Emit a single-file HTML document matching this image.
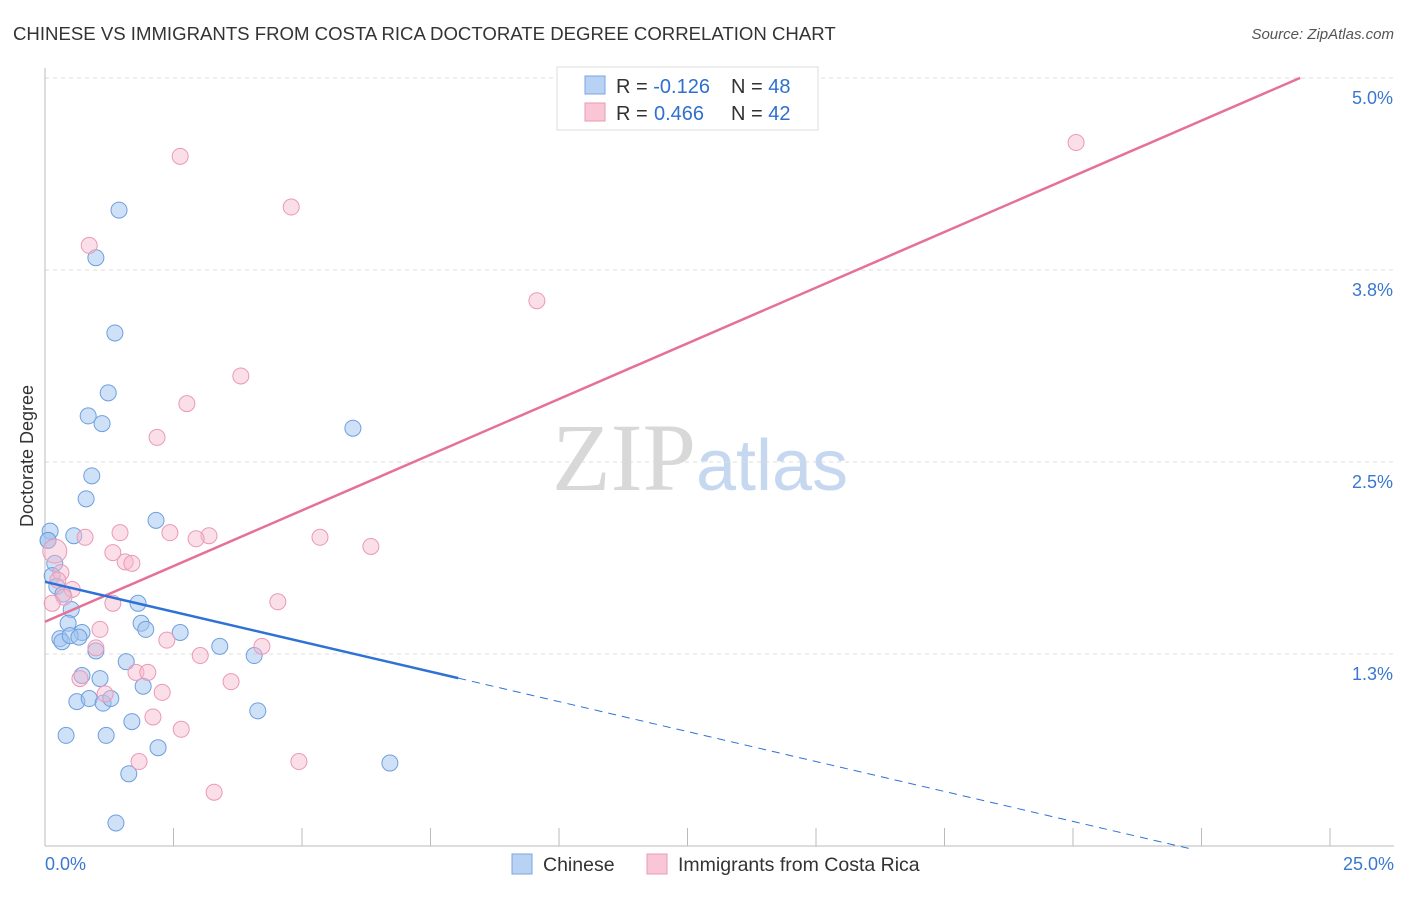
<!DOCTYPE html>
<html><head><meta charset="utf-8">
<style>
body{margin:0;background:#fff;font-family:"Liberation Sans",sans-serif;}
svg text{font-family:"Liberation Sans",sans-serif;}
</style></head>
<body>
<svg id="chart" width="1406" height="892" xmlns="http://www.w3.org/2000/svg">
<text x="13" y="40" font-size="18.6" fill="#333">CHINESE VS IMMIGRANTS FROM COSTA RICA DOCTORATE DEGREE CORRELATION CHART</text>
<text x="1394" y="39" font-size="15" fill="#555" text-anchor="end" font-style="italic">Source: ZipAtlas.com</text>
<text x="700" y="490" font-size="96" text-anchor="middle"><tspan fill="#d8d8d8" font-family="Liberation Serif">ZIP</tspan><tspan fill="#c5d8f0" font-size="72">atlas</tspan></text>
<g id="grid"></g>
<g id="axes"></g>
<g id="marks"></g>
<text transform="translate(33,456) rotate(-90)" font-size="18" fill="#333" text-anchor="middle">Doctorate Degree</text>
<g>
<rect x="557" y="67" width="261" height="63" fill="#fff" stroke="#ddd"/>
<rect x="585" y="76" width="20" height="18" fill="#b8d2f4" stroke="#7aa6e0"/>
<rect x="585" y="103" width="20" height="18" fill="#f9c6d6" stroke="#eb98b6"/>
<text x="616" y="93" font-size="20" fill="#333">R = <tspan fill="#2f6fd0">-0.126</tspan></text>
<text x="731" y="93" font-size="20" fill="#333">N = <tspan fill="#2f6fd0">48</tspan></text>
<text x="616" y="120" font-size="20" fill="#333">R = </text>
<text x="654" y="120" font-size="20" fill="#2f6fd0">0.466</text>
<text x="731" y="120" font-size="20" fill="#333">N = <tspan fill="#2f6fd0">42</tspan></text>
</g>
<g>
<rect x="512" y="854" width="20" height="20" fill="#b8d2f4" stroke="#7aa6e0"/>
<text x="543" y="871" font-size="19.5" fill="#333">Chinese</text>
<rect x="647" y="854" width="20" height="20" fill="#f9c6d6" stroke="#eb98b6"/>
<text x="678" y="871" font-size="19.5" fill="#333">Immigrants from Costa Rica</text>
</g>
</svg>
<script>
const xTicks=[0,2.5,5,7.5,10,12.5,15,17.5,20,22.5,25];
const yTicks=[1.25,2.5,3.75,5.0];
const yTickLabels=["1.3%","2.5%","3.8%","5.0%"];
const xTickLabels=["0.0%","25.0%"];
const chineseX=[1.44,0.99,1.36,1.23,0.84,1.11,0.91,0.80,0.10,0.06,0.56,2.16,0.19,0.14,0.23,0.35,0.51,1.81,0.45,1.87,1.96,2.63,0.72,0.29,0.33,0.49,0.66,0.99,3.40,4.07,1.58,0.72,1.07,1.91,0.62,0.86,1.13,1.28,4.14,1.69,0.41,1.19,2.20,6.71,1.63,1.38,5.99,0.06];
const chineseY=[4.14,3.83,3.34,2.95,2.80,2.75,2.41,2.26,2.05,1.99,2.02,2.12,1.84,1.76,1.69,1.64,1.54,1.58,1.45,1.45,1.41,1.39,1.39,1.35,1.33,1.37,1.36,1.27,1.30,1.24,1.20,1.11,1.09,1.04,0.94,0.96,0.93,0.96,0.88,0.81,0.72,0.72,0.64,0.54,0.47,0.15,2.72,1.99];
const costaX=[2.63,0.86,4.79,20.06,9.57,3.81,2.76,2.18,0.78,1.46,2.43,3.19,2.94,5.35,6.34,1.32,1.56,1.69,0.19,0.31,0.25,0.53,0.37,0.14,1.32,4.53,1.07,2.37,4.22,0.99,3.02,1.77,2.00,0.68,3.62,1.17,2.28,2.10,2.65,1.83,4.94,3.29];
const costaY=[4.49,3.91,4.16,4.58,3.55,3.06,2.88,2.66,2.01,2.04,2.04,2.02,2.00,2.01,1.95,1.91,1.85,1.84,1.92,1.78,1.73,1.67,1.62,1.58,1.58,1.59,1.41,1.34,1.30,1.29,1.24,1.13,1.13,1.09,1.07,0.99,1.00,0.84,0.76,0.55,0.55,0.35];
const chineseTrend=[1.72,-0.078,8.04,22.28];
const costaTrend=[1.46,0.145,24.42];
const X=v=>45+v*51.4, Y=v=>846-v*153.6;
const NS="http://www.w3.org/2000/svg";
function mk(t,a,p){const e=document.createElementNS(NS,t);for(const k in a)e.setAttribute(k,a[k]);p.appendChild(e);return e;}
const grid=document.getElementById('grid'),axes=document.getElementById('axes'),marks=document.getElementById('marks');
yTicks.forEach((v,i)=>{
 const l=mk('line',{x1:45,x2:1394,y1:Y(v),y2:Y(v),stroke:'#ddd','stroke-dasharray':'4,4'},grid);
 
 
 const t=mk('text',{x:1393,y:Y(v)+26,'font-size':18,fill:'#3a78d0','text-anchor':'end'},axes);
 t.textContent=yTickLabels[i];
 
 
});
const ax=mk('line',{x1:45,x2:1394,y1:846,y2:846,stroke:'#bbb'},axes);


const ay=mk('line',{x1:45,x2:45,y1:68,y2:846,stroke:'#bbb'},axes);


xTicks.forEach(v=>{
 const t=mk('line',{x1:X(v),x2:X(v),y1:828,y2:846,stroke:'#bbb'},axes);
 
 
});
const xl0=mk('text',{x:45,y:870,'font-size':18,fill:'#3a78d0'},axes);xl0.textContent=xTickLabels[0];


const xl1=mk('text',{x:1394,y:870,'font-size':18,fill:'#3a78d0','text-anchor':'end'},axes);xl1.textContent=xTickLabels[1];


chineseX.forEach((x,i)=>{
 const c=mk('circle',{cx:X(x),cy:Y(chineseY[i]),r:8,fill:'rgba(160,196,240,0.5)',stroke:'#6e9fdf','stroke-width':1},marks);
 
 
});
costaX.forEach((x,i)=>{
 const c=mk('circle',{cx:X(x),cy:Y(costaY[i]),r:i==18?12:8,fill:'rgba(246,184,204,0.45)',stroke:'#eb98b6','stroke-width':1},marks);
 
 
});
const f=(t,x)=>t[0]+t[1]*x;
const p=mk('line',{x1:X(0),y1:Y(f(costaTrend,0)),x2:X(costaTrend[2]),y2:Y(f(costaTrend,costaTrend[2])),stroke:'#e5709a','stroke-width':2.5},marks);


const b=mk('line',{x1:X(0),y1:Y(f(chineseTrend,0)),x2:X(chineseTrend[2]),y2:Y(f(chineseTrend,chineseTrend[2])),stroke:'#2f72d6','stroke-width':2.5},marks);


const bd=mk('line',{x1:X(chineseTrend[2]),y1:Y(f(chineseTrend,chineseTrend[2])),x2:X(chineseTrend[3]),y2:Y(f(chineseTrend,chineseTrend[3])),stroke:'#2f72d6','stroke-width':1,'stroke-dasharray':'8,6'},marks);


</script>
</body></html>
